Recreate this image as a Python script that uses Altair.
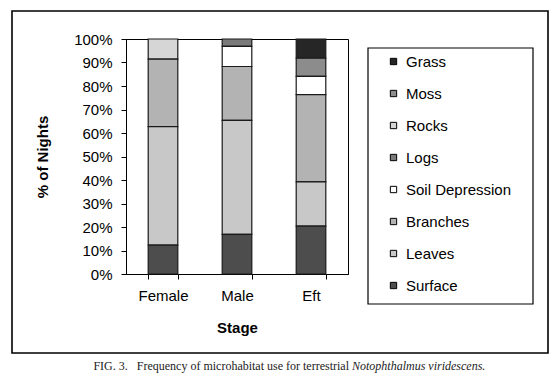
import altair as alt
import pandas as pd

# ---- data ----
stages = ["Female", "Male", "Eft"]
# legend order (top to bottom); stacking is the reverse (Surface at bottom)
habitats = ["Grass", "Moss", "Rocks", "Logs", "Soil Depression", "Branches", "Leaves", "Surface"]
habitat_colors = ["#262626", "#8c8c8c", "#d6d6d6", "#7a7a7a", "#ffffff", "#b3b3b3", "#c8c8c8", "#4d4d4d"]
female_pct = [0, 0, 8.6, 0, 0, 28.7, 50.4, 12.3]
male_pct = [0, 0, 0, 3.1, 8.6, 22.9, 48.5, 16.9]
eft_pct = [8.2, 7.7, 0, 0, 7.8, 37.1, 18.8, 20.4]
y_ticks = [0, 10, 20, 30, 40, 50, 60, 70, 80, 90, 100]
caption_main = "FIG. 3.\u00a0\u00a0\u00a0Frequency of microhabitat use for terrestrial"
caption_italic = "Notophthalmus viridescens."

rows = []
for stage, vals in zip(stages, [female_pct, male_pct, eft_pct]):
    for i, (h, v) in enumerate(zip(habitats, vals)):
        if v > 0:
            rows.append({"Stage": stage, "Habitat": h, "Percent": v,
                         "StackIdx": len(habitats) - i})
df = pd.DataFrame(rows)

# ---- layout (pixels) ----
L, T = 126, 39          # plot origin in the page
W, H = 222, 235         # plot area
FONT = "Liberation Sans"
SERIF = "Liberation Serif"

bars = alt.Chart(df).mark_bar(stroke="#1a1a1a", strokeWidth=1.2).encode(
    x=alt.X("Stage:N", sort=stages,
            scale=alt.Scale(paddingInner=0.6, paddingOuter=0.3),
            axis=alt.Axis(title="Stage", tickBand="extent", labelAngle=0,
                          labelFont=FONT, labelFontSize=15, labelColor="black",
                          labelPadding=9, tickSize=5, tickColor="black",
                          domainColor="black",
                          titleFont=FONT, titleFontSize=15, titleFontWeight="bold",
                          titleColor="black", titleX=W / 2, titleY=53,
                          titleBaseline="middle", titleAlign="center")),
    y=alt.Y("Percent:Q", stack="zero",
            scale=alt.Scale(domain=[0, 100], nice=False),
            axis=alt.Axis(title="% of Nights", values=y_ticks,
                          labelExpr="datum.value + '%'", grid=False,
                          labelFont=FONT, labelFontSize=15, labelColor="black",
                          labelPadding=9, tickSize=5, tickColor="black",
                          domainColor="black",
                          titleFont=FONT, titleFontSize=15, titleFontWeight="bold",
                          titleColor="black", titleX=-84, titleY=H / 2,
                          titleAngle=270, titleBaseline="middle", titleAlign="center")),
    color=alt.Color("Habitat:N",
                    scale=alt.Scale(domain=habitats, range=habitat_colors),
                    legend=alt.Legend(title=None, orient="none",
                                      legendX=260, legendY=15,
                                      symbolType="square", symbolSize=40,
                                      symbolStrokeColor="black", symbolStrokeWidth=1,
                                      labelFont=FONT, labelFontSize=15,
                                      labelColor="black", labelOffset=5,
                                      rowPadding=16, padding=0)),
    order=alt.Order("StackIdx:Q", sort="ascending"),
)

one = pd.DataFrame({"k": [0]})

legend_box = alt.Chart(one).mark_rect(fill=None, stroke="black", strokeWidth=1.2).encode(
    x=alt.value(242), x2=alt.value(407), y=alt.value(9), y2=alt.value(265)
)

frame = alt.Chart(one).mark_rect(fill=None, stroke="black", strokeWidth=1.6).encode(
    x=alt.value(-114), x2=alt.value(422), y=alt.value(-28), y2=alt.value(314)
)

cap1 = alt.Chart(one).mark_text(font=SERIF, fontSize=12, align="right",
                                baseline="middle", color="#222").encode(
    x=alt.value(223), y=alt.value(327), text=alt.value(caption_main)
)
cap2 = alt.Chart(one).mark_text(font=SERIF, fontSize=12, fontStyle="italic",
                                align="left", baseline="middle", color="#222").encode(
    x=alt.value(226), y=alt.value(327), text=alt.value(caption_italic)
)

chart = alt.layer(frame, bars, legend_box, cap1, cap2).properties(
    width=W, height=H,
    autosize=alt.AutoSizeParams(type="none"),
    padding={"left": L, "top": T, "right": 559 - L - W, "bottom": 377 - T - H},
    background="white",
).configure_view(stroke="black", strokeWidth=1)

chart.save("out.html", embed_options={"renderer": "svg", "actions": False})
